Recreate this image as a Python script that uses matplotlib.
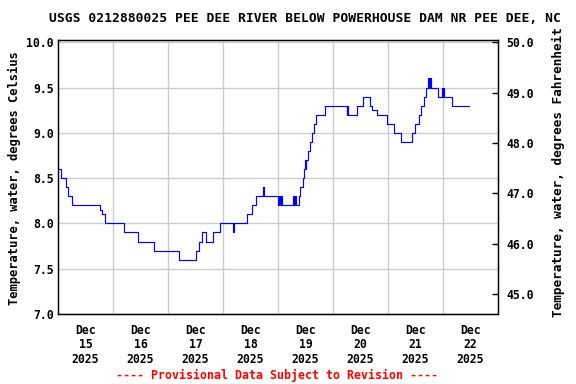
import matplotlib
matplotlib.use('Agg')
import matplotlib.pyplot as plt
import numpy as np

# Water temperature, step changes
# hours since Dec 15 2025 00:00 and the value from that time on (deg C)
hours = [0.0, 1.2, 3.4, 4.5, 5.9, 6.1, 6.3, 18.3, 19.0, 20.5,
         28.9, 35.0, 42.0, 52.8, 60.1, 61.4, 62.8, 64.6, 67.5, 70.7,
         76.5, 77.0, 82.6, 84.7, 86.4, 89.6, 90.1, 96.1, 96.6, 97.0,
         97.3, 97.6, 102.7, 103.1, 103.4, 103.9, 105.3, 105.7, 106.8,
         107.3, 107.8, 108.0, 108.2, 109.0, 109.8, 110.7, 111.7, 112.6,
         116.5, 126.0, 126.3, 126.7, 130.6, 133.2, 136.1, 137.2, 139.0,
         143.7, 146.4, 149.5, 154.4, 155.8, 157.6, 158.4, 159.9, 160.4,
         160.6, 160.8, 161.5, 161.8, 162.3, 162.6, 165.8, 167.5, 167.8,
         168.1, 168.5, 171.8, 179.3]
temp_c = [8.6, 8.5, 8.4, 8.3, 8.2, 8.3, 8.2, 8.15, 8.1, 8.0,
          7.9, 7.8, 7.7, 7.6, 7.7, 7.8, 7.9, 7.8, 7.9, 8.0,
          7.9, 8.0, 8.1, 8.2, 8.3, 8.4, 8.3, 8.2, 8.3, 8.2,
          8.3, 8.2, 8.3, 8.2, 8.3, 8.2, 8.3, 8.4, 8.5,
          8.6, 8.7, 8.6, 8.7, 8.8, 8.9, 9.0, 9.1, 9.2,
          9.3, 9.2, 9.3, 9.2, 9.3, 9.4, 9.3, 9.25, 9.2,
          9.1, 9.0, 8.9, 9.0, 9.1, 9.2, 9.3, 9.4, 9.5,
          9.4, 9.5, 9.6, 9.5, 9.6, 9.5, 9.4, 9.5, 9.4,
          9.5, 9.4, 9.3, 9.3]

day_labels = ['Dec\n15\n2025', 'Dec\n16\n2025', 'Dec\n17\n2025', 'Dec\n18\n2025',
              'Dec\n19\n2025', 'Dec\n20\n2025', 'Dec\n21\n2025', 'Dec\n22\n2025']
c_ticks = [7.0, 7.5, 8.0, 8.5, 9.0, 9.5, 10.0]
f_ticks = [45.0, 46.0, 47.0, 48.0, 49.0, 50.0]

title = 'USGS 0212880025 PEE DEE RIVER BELOW POWERHOUSE DAM NR PEE DEE, NC'

plt.rcParams['font.family'] = 'DejaVu Sans Mono'
plt.rcParams['font.weight'] = 'bold'

fig = plt.figure(figsize=(5.76, 3.84), dpi=100)
ax = fig.add_axes([58 / 576, 1 - 314 / 384, 440 / 576, 274.5 / 384])

ymin, ymax = 7.0, 10.03
ax.plot(np.array(hours) / 24, temp_c, drawstyle='steps-post',
        color='#0000ff', lw=0.85)
ax.set_xlim(0, 8)
ax.set_ylim(ymin, ymax)

ax.set_yticks(c_ticks)
ax.set_yticklabels(['%.1f' % v for v in c_ticks], fontsize=8.3)
ax.set_xticks(np.arange(len(day_labels)) + 0.5)
ax.set_xticklabels(day_labels, fontsize=8.3, linespacing=1.15)
ax.set_xticks(np.arange(1, 8), minor=True)
ax.grid(axis='y', color='#cccccc', lw=1)
ax.grid(axis='x', which='minor', color='#cccccc', lw=1)
ax.tick_params(which='both', length=0, pad=3)
ax.tick_params(axis='x', pad=7)
for s in ax.spines.values():
    s.set_linewidth(1)

# Fahrenheit scale on the right
ax2 = ax.twinx()
ax2.set_ylim(ymin * 1.8 + 32, ymax * 1.8 + 32)
ax2.set_yticks(f_ticks)
ax2.set_yticklabels(['%.1f' % v for v in f_ticks], fontsize=8.3)
ax2.tick_params(direction='in', length=4, width=1, pad=6)

fig.text(305 / 576, 1 - 19 / 384, title, ha='center', va='center', fontsize=9.35)
fig.text(14 / 576, 1 - 178 / 384, 'Temperature, water, degrees Celsius',
         rotation=90, ha='center', va='center', fontsize=8.7)
fig.text(558 / 576, 1 - 172 / 384, 'Temperature, water, degrees Fahrenheit',
         rotation=90, ha='center', va='center', fontsize=9.2)
fig.text(277 / 576, 1 - 375 / 384, '---- Provisional Data Subject to Revision ----',
         ha='center', va='center', fontsize=8.4, color='red')

fig.savefig('out.png', dpi=100)
